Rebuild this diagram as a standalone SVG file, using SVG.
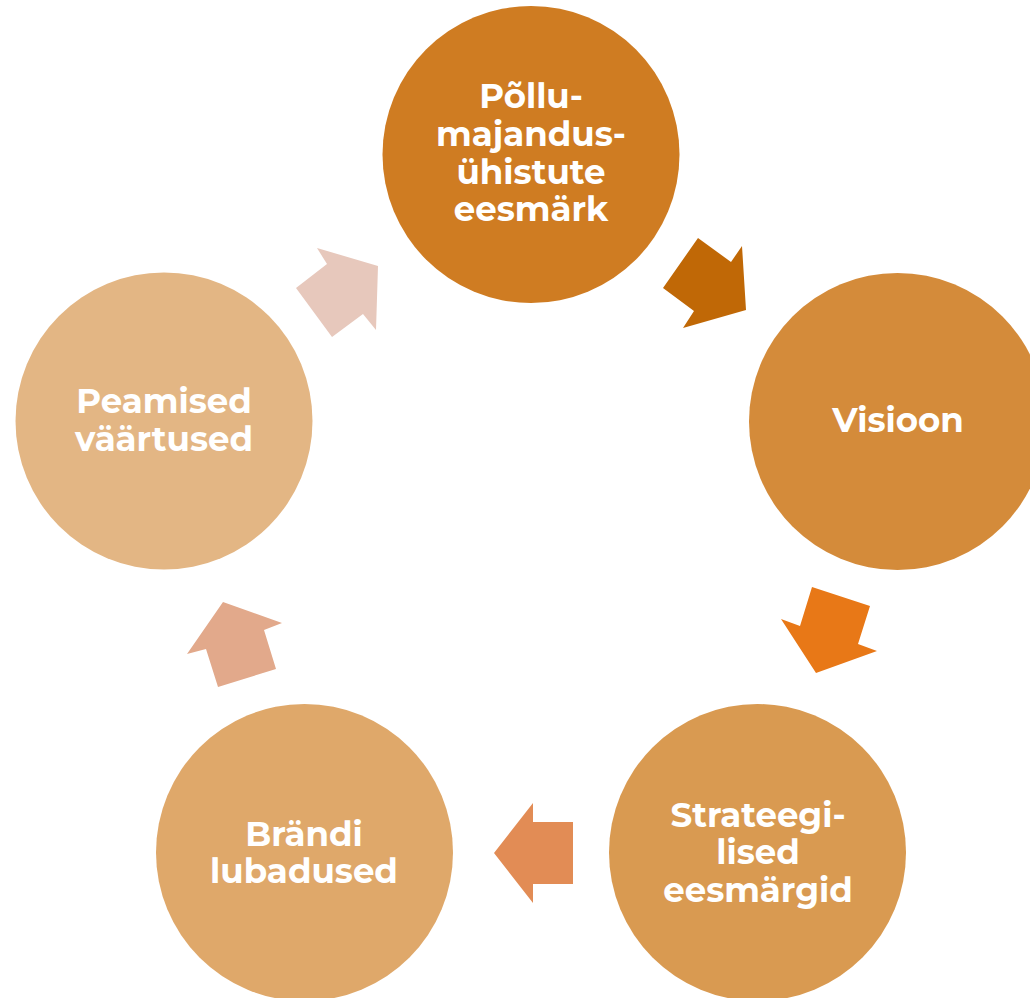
<svg xmlns="http://www.w3.org/2000/svg" width="1030" height="998" viewBox="0 0 1030 998">
  <style>
    .lbl { font-family: Montserrat, "Open Sans", "Liberation Sans", sans-serif; font-weight: 700; font-size: 34px; fill: #ffffff; text-anchor: middle; }
  </style>
  <rect width="1030" height="998" fill="#ffffff"/>

  <!-- cycle arrows -->
  <g id="connectors">
    <polygon fill="#C06806" points="698,238 731,262 742,246 746,310 683,328 694,311 663,288"/>
    <polygon fill="#E87817" points="812,587 870,606 858,644 877,651 816,673 781,619 800,626"/>
    <polygon fill="#E28C55" points="533,803 533,822 573,822 573,884 533,884 533,903 494,853"/>
    <polygon fill="#E2A98B" points="223,602 282,623 264,630 276,669 218,687 206,649 187,654"/>
    <polygon fill="#E7C8BC" points="317,248 378,266 376,330 363,314 332,337 296,288 327,264"/>
  </g>

  <g id="node-eesmark">
    <circle cx="531" cy="154.5" r="148.5" fill="#CF7C22"/>
    <text class="lbl" x="531" y="108">Põllu-</text>
    <text class="lbl" x="531" y="146">majandus-</text>
    <text class="lbl" x="531" y="184">ühistute</text>
    <text class="lbl" x="531" y="221">eesmärk</text>
  </g>

  <g id="node-visioon">
    <circle cx="897.5" cy="421.5" r="148.5" fill="#D48B3A"/>
    <text class="lbl" x="898" y="432">Visioon</text>
  </g>

  <g id="node-strateegilised">
    <circle cx="757.5" cy="852.5" r="148.5" fill="#D99A51"/>
    <text class="lbl" x="758" y="827">Strateegi-</text>
    <text class="lbl" x="758" y="864">lised</text>
    <text class="lbl" x="758" y="902">eesmärgid</text>
  </g>

  <g id="node-brandi">
    <circle cx="304.5" cy="852.5" r="148.5" fill="#DFA86A"/>
    <text class="lbl" x="304" y="846">Brändi</text>
    <text class="lbl" x="304" y="883">lubadused</text>
  </g>

  <g id="node-vaartused">
    <circle cx="164" cy="421" r="148.5" fill="#E3B684"/>
    <text class="lbl" x="164" y="413">Peamised</text>
    <text class="lbl" x="164" y="451">väärtused</text>
  </g>
</svg>
